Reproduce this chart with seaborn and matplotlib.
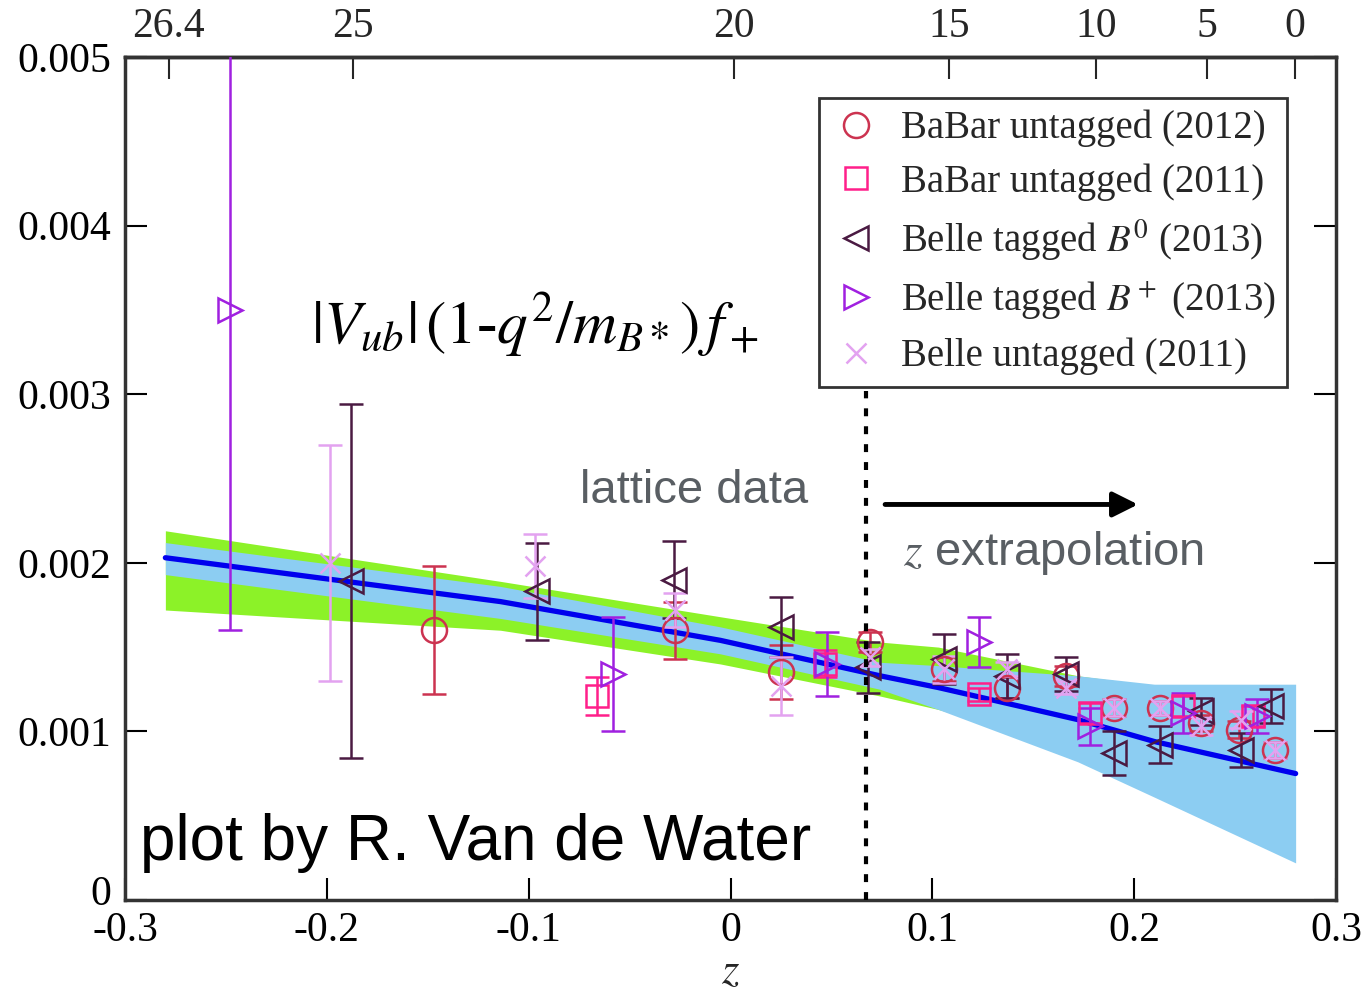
import numpy as np
import matplotlib
matplotlib.use('Agg')
import matplotlib.pyplot as plt
import matplotlib.transforms as mtransforms
from matplotlib.lines import Line2D
import seaborn as sns
import pandas as pd

# ---------------- data ----------------
# BaBar untagged (2012) - circles
babar12_z = [-0.147, -0.0276, 0.025, 0.069, 0.106, 0.137, 0.166, 0.190, 0.213, 0.233, 0.252, 0.270]
babar12_v = [0.00160, 0.00160, 0.00135, 0.00153, 0.00137, 0.00126, 0.00133, 0.00114, 0.00114, 0.00105, 0.00101, 0.00089]
babar12_e = [0.00038, 0.00017, 0.00016, 0.00006, 0.00007, 0.00006, 0.00006, 0.00005, 0.00004, 0.00005, 0.00005, 0.00005]

# BaBar untagged (2011) - squares
babar11_z = [-0.066, 0.047, 0.123, 0.178, 0.224, 0.259]
babar11_v = [0.00121, 0.00140, 0.00122, 0.00111, 0.00115, 0.00109]
babar11_e = [0.00011, 0.00008, 0.00004, 0.00006, 0.00006, 0.00006]

# Belle tagged B0 (2013) - left triangles
belleB0_z = [-0.188, -0.096, -0.028, 0.025, 0.068, 0.106, 0.137, 0.166, 0.190, 0.213, 0.233, 0.253, 0.268]
belleB0_v = [0.00189, 0.00183, 0.00190, 0.00162, 0.00138, 0.00143, 0.00133, 0.00134, 0.00087, 0.00092, 0.00112, 0.00089, 0.00115]
belleB0_e = [0.00105, 0.00029, 0.00023, 0.00018, 0.00015, 0.00015, 0.00013, 0.00010, 0.00013, 0.00011, 0.00008, 0.00010, 0.00010]

# Belle tagged B+ (2013) - right triangles
belleBp_z = [-0.248, -0.058, 0.048, 0.123, 0.178, 0.224, 0.261]
belleBp_v = [0.00350, 0.00134, 0.00140, 0.00153, 0.00103, 0.00111, 0.00109]
belleBp_e = [0.00190, 0.00034, 0.00019, 0.00015, 0.00011, 0.00012, 0.00010]

# Belle untagged (2011) - crosses
belleU_z = [-0.1985, -0.097, -0.0276, 0.025, 0.069, 0.106, 0.137, 0.166, 0.190, 0.213, 0.233, 0.253, 0.270]
belleU_v = [0.00200, 0.00198, 0.00172, 0.00127, 0.00144, 0.00137, 0.00137, 0.00126, 0.00114, 0.00114, 0.00103, 0.00107, 0.00089]
belleU_e = [0.00070, 0.00019, 0.00010, 0.00017, 0.00005, 0.00008, 0.00004, 0.00004, 0.00005, 0.00004, 0.00005, 0.00005, 0.00005]

# lattice-only band (green)
lat_z = [-0.28, -0.114, -0.005, 0.074, 0.103, 0.172, 0.21]
lat_lo = [0.00172, 0.00160, 0.00140, 0.00121, 0.00113, 0.00090, 0.00070]
lat_hi = [0.00219, 0.00189, 0.00168, 0.00153, 0.00150, 0.00133, 0.00127]

# combined fit band (blue) and central line
fit_z = [-0.28, -0.114, -0.005, 0.074, 0.103, 0.172, 0.21, 0.28]
fit_lo = [0.00193, 0.00167, 0.00146, 0.00125, 0.00113, 0.00082, 0.00061, 0.00022]
fit_hi = [0.00212, 0.00186, 0.00162, 0.00141, 0.00139, 0.00133, 0.00128, 0.00128]
fit_c = [0.00203, 0.00177, 0.00154, 0.00133, 0.00126, 0.00107, 0.00094, 0.00075]

x_ticks = [-0.3, -0.2, -0.1, 0.0, 0.1, 0.2, 0.3]
x_ticklabels = ['-0.3', '-0.2', '-0.1', '0', '0.1', '0.2', '0.3']
y_ticks = [0, 0.001, 0.002, 0.003, 0.004, 0.005]
y_ticklabels = ['0', '0.001', '0.002', '0.003', '0.004', '0.005']
q2_ticks = [26.4, 25, 20, 15, 10, 5, 0]
q2_ticklabels = ['26.4', '25', '20', '15', '10', '5', '0']

labels = ['BaBar untagged (2012)', 'BaBar untagged (2011)',
          r'Belle tagged $B^0$ (2013)', r'Belle tagged $B^+$ (2013)',
          'Belle untagged (2011)']

z_cut = 0.0671  # lattice data / extrapolation boundary

# kinematics for the q^2 axis (B -> pi)
mB, mpi = 5.2795, 0.13957
tp = (mB + mpi) ** 2
tm = (mB - mpi) ** 2
t0 = tp * (1 - np.sqrt(1 - tm / tp))
s0 = np.sqrt(tp - t0)


def z_to_q2(z):
    z = np.clip(np.asarray(z, dtype=float), -0.99, 0.99)
    return tp - s0 ** 2 * ((1 + z) / (1 - z)) ** 2


def q2_to_z(q2):
    s = np.sqrt(np.clip(tp - np.asarray(q2, dtype=float), 1e-9, None))
    return (s - s0) / (s + s0)


# ---------------- styling ----------------
sns.set_theme(style='ticks')
plt.rcParams['font.family'] = ['Liberation Serif', 'DejaVu Serif']
plt.rcParams['mathtext.fontset'] = 'stix'

fig = plt.figure(figsize=(13.65, 9.91), dpi=100)
ax = fig.add_axes([125 / 1365, 1 - 900 / 991, (1336 - 125) / 1365, (900 - 57) / 991])

green = '#8CF228'
blue_band = '#8CCDF2'

ax.fill_between(lat_z, lat_lo, lat_hi, color=green, lw=0, zorder=1)
ax.fill_between(fit_z, fit_lo, fit_hi, color=blue_band, lw=0, zorder=2)
sns.lineplot(x=fit_z, y=fit_c, ax=ax, color='#0000EE', lw=3.8, zorder=3)

series = [
    (babar12_z, babar12_v, babar12_e, 'o', '#CC3350', 18),
    (babar11_z, babar11_v, babar11_e, 's', '#FF1F8A', 16),
    (belleB0_z, belleB0_v, belleB0_e, '<', '#4A1A42', 17),
    (belleBp_z, belleBp_v, belleBp_e, '>', '#A020E0', 17),
    (belleU_z, belleU_v, belleU_e, 'x', '#E3A2F0', 14),
]
handles = []
for (zz, vv, ee, mk, col, ms) in series:
    ax.errorbar(zz, vv, yerr=ee, fmt=mk, mfc='none', mec=col, ecolor=col, ms=ms,
                mew=1.8, elinewidth=1.8, capsize=8.5, capthick=1.8, zorder=4)
    handles.append(Line2D([], [], marker=mk, ls='none', mfc='none', mec=col,
                          ms=ms, mew=1.8))

# dashed boundary line
ax.plot([z_cut, z_cut], [0, 0.00302], color='black', lw=3.0,
        ls=(0, (1.9, 2.4)), zorder=5)

# arrow
ax.annotate('', xy=(0.2019, 0.002346), xytext=(0.0766, 0.002346),
            arrowprops=dict(arrowstyle='-|>', color='black', lw=3.5,
                            mutation_scale=38, shrinkA=0, shrinkB=0), zorder=6)

ax.text(-0.208, 0.00330, r'$|V_{ub}|\,(1$-$q^2/m_{B*})\,f_+$', fontsize=44,
        ha='left', va='baseline', color='black')
ax.text(-0.0746, 0.002423, 'lattice data', fontsize=34, ha='left', va='center',
        color='#595E63', family=['Liberation Sans', 'DejaVu Sans'])
ax.text(0.0855, 0.00206, r'$z$ extrapolation', fontsize=34, ha='left', va='center',
        color='#595E63', family=['Liberation Sans', 'DejaVu Sans'])
ax.text(-0.2926, 0.00034, 'plot by R. Van de Water', fontsize=46, ha='left',
        va='center', color='black', family=['Liberation Sans', 'DejaVu Sans'])

ax.set_xlim(-0.3, 0.3)
ax.set_ylim(0, 0.005)
ax.set_xticks(x_ticks)
ax.set_xticklabels(x_ticklabels)
ax.set_yticks(y_ticks)
ax.set_yticklabels(y_ticklabels)
ax.tick_params(direction='in', length=16, width=1.5, labelsize=30, right=True,
               top=False, pad=8, colors='black')
ax.tick_params(axis='y', pad=10)
ax.set_xlabel(r'$z$', fontsize=32, labelpad=2)
ax.set_ylabel('')
for s in ax.spines.values():
    s.set_linewidth(2.5)
    s.set_color('#333333')

# nudge the y "0" label up so it does not collide with the "-0.3" x label
zero_lbl = ax.get_yticklabels()[0]
zero_lbl.set_transform(zero_lbl.get_transform() +
                       mtransforms.ScaledTranslation(0, 10 / 100, fig.dpi_scale_trans))

sec = ax.secondary_xaxis('top', functions=(z_to_q2, q2_to_z))
sec.set_xticks(q2_ticks)
sec.set_xticklabels(q2_ticklabels)
sec.tick_params(direction='in', length=16, width=1.5, labelsize=30, pad=8)
sec.spines['top'].set_linewidth(2.5)

leg = ax.legend(handles, labels, loc='upper right', bbox_to_anchor=(0.9596, 0.9514),
                fontsize=28, frameon=True, fancybox=False, edgecolor='#333333',
                framealpha=1, handletextpad=0.5, borderpad=0.3, labelspacing=0.42,
                handlelength=1.3, borderaxespad=0)
leg.get_frame().set_linewidth(2)
leg.set_zorder(10)

fig.savefig('out.png', dpi=100, facecolor='white')
